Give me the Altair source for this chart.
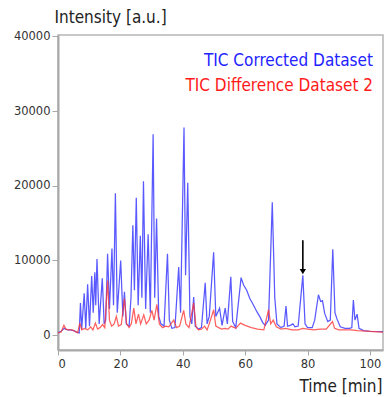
import altair as alt
import pandas as pd

# ---- data ----
blue_time = [0.0, 1.0, 2.0, 3.0, 4.0, 5.0, 6.0, 6.8, 7.2, 7.6, 8.4, 8.9, 9.5, 10.1, 10.8, 11.3, 11.8, 12.1,
             12.5, 13.2, 14.2, 14.8, 15.3, 15.9, 16.5, 17.3, 17.8, 18.4, 19.0, 20.1, 20.8, 21.3, 21.9, 22.8,
             23.4, 24.0, 24.5, 25.1, 25.7, 26.4, 26.9, 27.4, 28.1, 28.9, 29.6, 30.5, 31.0, 31.6, 32.3, 33.0,
             34.0, 35.1, 35.7, 36.5, 37.5, 38.7, 39.3, 40.4, 40.9, 41.6, 42.3, 42.9, 43.5, 44.0, 45.0, 46.0,
             47.2, 47.8, 48.5, 49.9, 50.6, 51.8, 52.6, 53.6, 54.3, 55.4, 56.0, 57.0, 58.7, 59.5, 60.5, 61.5,
             62.7, 63.8, 64.8, 65.6, 66.4, 67.5, 68.7, 69.5, 70.2, 71.5, 72.5, 73.1, 73.6, 74.5, 75.3, 76.0,
             77.0, 78.5, 79.2, 80.0, 81.5, 82.3, 83.5, 84.2, 84.8, 85.5, 86.5, 87.3, 88.1, 88.8, 89.4, 90.5,
             92.0, 93.5, 94.2, 94.7, 95.2, 95.9, 96.5, 98.0, 100.0, 104.2]
blue_intensity = [300, 500, 900, 700, 700, 600, 400, 300, 4300, 800, 5600, 900, 6800, 1200, 7900, 3000, 8400, 4000,
                  10200, 1500, 7600, 1500, 2000, 10900, 3500, 11600, 4000, 19000, 3000, 10000, 2500, 5800, 1500, 1200,
                  5000, 14700, 6000, 18400, 4000, 13300, 5000, 20600, 3500, 13500, 3000, 26900, 5000, 15600, 2500, 1500,
                  1200, 10900, 2000, 900, 1000, 9100, 3000, 27800, 8000, 20400, 2500, 1500, 5100, 1200, 800, 1000,
                  7000, 1500, 2500, 11100, 2500, 3600, 1300, 3600, 1500, 7800, 1800, 1000, 7700, 6700, 6000, 4900,
                  4000, 3100, 2400, 1700, 1300, 2000, 17800, 5000, 1500, 1000, 1200, 3900, 1200, 1300, 1500, 1100,
                  1200, 8000, 1500, 1000, 1000, 2000, 5400, 4500, 4600, 2900, 1800, 2000, 11500, 3000, 2200, 1100,
                  900, 900, 1000, 4700, 2000, 2800, 900, 600, 500, 450]

red_time = [0.0, 1.0, 1.9, 2.5, 3.5, 4.5, 5.5, 6.3, 7.0, 7.6, 8.5, 9.5, 10.5, 11.2, 12.0, 12.7, 13.5, 14.3,
            15.0, 15.9, 16.5, 17.2, 18.0, 18.7, 19.4, 20.3, 21.3, 22.0, 22.8, 23.5, 24.3, 25.0, 25.8, 26.5,
            27.5, 28.3, 29.2, 30.1, 30.8, 31.7, 32.5, 33.5, 34.5, 35.5, 37.1, 38.0, 39.0, 40.3, 41.0, 42.0,
            43.5, 44.2, 45.0, 46.0, 47.0, 47.8, 48.5, 49.9, 50.6, 51.5, 52.5, 53.5, 54.5, 55.5, 57.0, 58.5,
            60.0, 62.0, 64.0, 66.0, 67.5, 68.2, 69.0, 70.0, 71.5, 73.0, 75.0, 77.0, 78.5, 80.0, 82.0, 84.0,
            86.0, 88.0, 88.7, 90.0, 92.0, 94.0, 96.0, 100.0, 104.2]
red_intensity = [300, 400, 1300, 800, 700, 700, 500, 300, 1600, 700, 900, 700, 1100, 700, 1600, 800, 1000, 1400,
                 1000, 7300, 2000, 1200, 1500, 2500, 1200, 1400, 4900, 1500, 1000, 1500, 3600, 1500, 2800, 1500,
                 2700, 1500, 2000, 3300, 2000, 4100, 1500, 1000, 1200, 1100, 2000, 1000, 1200, 3300, 1500, 1000,
                 4300, 1200, 700, 800, 1200, 700, 1500, 3400, 1200, 1000, 800, 900, 800, 1200, 900, 1600,
                 1300, 1000, 800, 700, 3400, 1500, 2000, 1100, 800, 900, 700, 700, 900, 800, 700, 800,
                 800, 1800, 900, 700, 700, 700, 600, 500, 400]

series_names = ["TIC Corrected Dataset", "TIC Difference Dataset 2"]
series_colors = ["#3030ff", "#ff3838"]
text_colors = ["#2323ff", "#ff1a1a"]

x_ticks = [0, 20, 40, 60, 80, 100]
y_ticks = [0, 10000, 20000, 30000, 40000]

arrow_time = [78.5]
arrow_top = [12700]
arrow_tip = [8500]

# ---- tables ----
df = pd.concat([
    pd.DataFrame({"t": blue_time, "v": blue_intensity, "s": series_names[0], "o": 1}),
    pd.DataFrame({"t": red_time, "v": red_intensity, "s": series_names[1], "o": 0}),
])
arrow_df = pd.DataFrame({"t": arrow_time, "y1": arrow_top, "y2": arrow_tip})

FONT = "DejaVu Sans Condensed, DejaVu Sans"

xs = alt.Scale(domain=[0, 104.2], nice=False, zero=False)
ys = alt.Scale(domain=[-2000, 40200], nice=False, zero=False)

x_axis = alt.Axis(values=x_ticks, title="Time [min]", titleAngle=0, titleAlign="right",
                  titleX=324, titleY=41, titleBaseline="alphabetic", grid=False,
                  domainColor="#a8a8a8", domainWidth=2, tickColor="#a8a8a8", tickSize=5,
                  labelPadding=3, labelFont="DejaVu Sans", labelFontSize=11.5, labelColor="#333333",
                  titleFont=FONT, titleFontSize=17, titleFontWeight="normal", titleColor="#222222")
y_axis = alt.Axis(values=y_ticks, format="d", title="Intensity [a.u.]", titleAngle=0,
                  titleAlign="left", titleX=-4, titleY=-13, titleBaseline="alphabetic", grid=False,
                  domainColor="#a8a8a8", domainWidth=2, tickColor="#a8a8a8", tickSize=6,
                  labelPadding=2, labelFont="DejaVu Sans", labelFontSize=11.5, labelColor="#333333",
                  titleFont=FONT, titleFontSize=17, titleFontWeight="normal", titleColor="#222222")

lines = alt.Chart(df).mark_line(strokeWidth=1.25, opacity=0.8).encode(
    x=alt.X("t:Q", scale=xs, axis=x_axis),
    y=alt.Y("v:Q", scale=ys, axis=y_axis),
    color=alt.Color("s:N", scale=alt.Scale(domain=series_names, range=series_colors), legend=None),
    order=alt.Order("o:Q"),
    detail="s:N",
)

arrow_shaft = alt.Chart(arrow_df).mark_rule(color="black", strokeWidth=1.6).encode(
    x=alt.X("t:Q", scale=xs), y=alt.Y("y1:Q", scale=ys), y2="y2:Q")
arrow_head = alt.Chart(arrow_df).mark_point(shape="triangle-down", filled=True, color="black",
                                             size=40, opacity=1).encode(
    x=alt.X("t:Q", scale=xs), y=alt.Y("y2:Q", scale=ys))

leg1 = alt.Chart(pd.DataFrame({"label": [series_names[0]]})).mark_text(
    align="right", baseline="alphabetic", font=FONT, fontSize=17, color=text_colors[0]).encode(
    x=alt.value(315), y=alt.value(31), text="label:N")
leg2 = alt.Chart(pd.DataFrame({"label": [series_names[1]]})).mark_text(
    align="right", baseline="alphabetic", font=FONT, fontSize=17, color=text_colors[1]).encode(
    x=alt.value(315), y=alt.value(56), text="label:N")

chart = alt.layer(lines, arrow_shaft, arrow_head, leg1, leg2).properties(
    width=325, height=315,
    autosize=alt.AutoSizeParams(type="none"),
    padding={"left": 58, "top": 35, "right": 1, "bottom": 47},
    background="white",
).configure_view(stroke="#b5b5b5", strokeWidth=1.5)

chart.save("out.html", embed_options={"renderer": "svg", "actions": False})
